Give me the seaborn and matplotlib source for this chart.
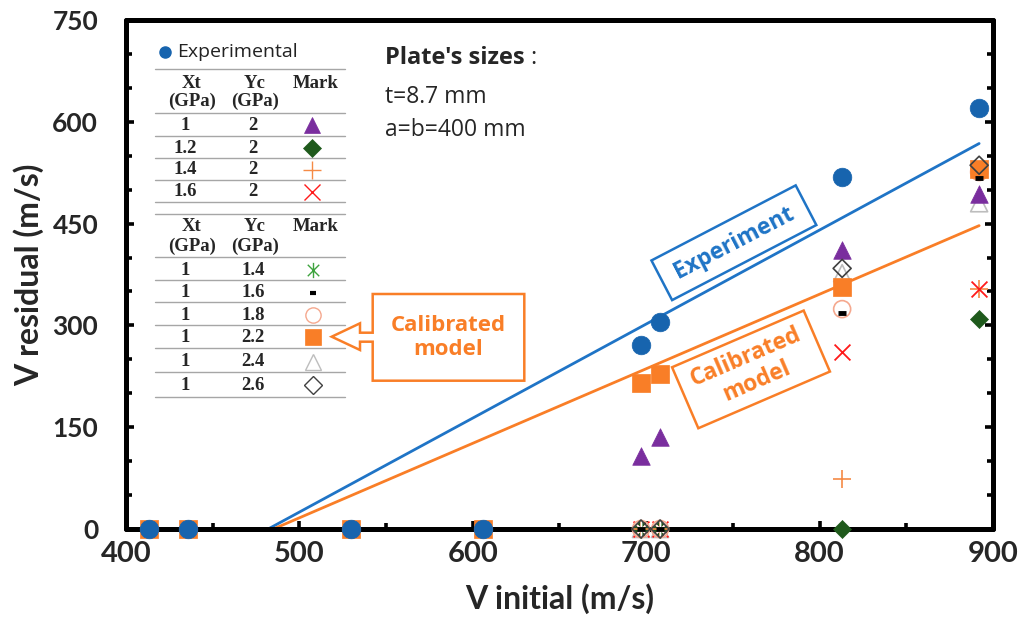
import matplotlib
matplotlib.use("Agg")
import numpy as np
import pandas as pd
import seaborn as sns
import matplotlib.pyplot as plt
from matplotlib.path import Path
from matplotlib.lines import Line2D
from matplotlib.patches import Rectangle, Polygon
from matplotlib.transforms import Affine2D

# ---------------- data ----------------
v_exp = [413, 436, 530, 606, 697, 708, 813, 892]
r_exp = [0, 0, 0, 0, 271, 305, 519, 620]
v_cal = [413, 436, 530, 606, 697, 708, 813, 892]
r_cal = [0, 0, 0, 0, 215, 228, 357, 531]          # Xt=1, Yc=2.2 (calibrated)
v_sim = [697, 708, 813, 892]
r_xt10 = [108, 136, 411, 493]   # Xt=1,   Yc=2
r_xt12 = [0, 0, 0, 310]         # Xt=1.2, Yc=2
r_xt14 = [0, 0, 73, 353]        # Xt=1.4, Yc=2
r_xt16 = [0, 0, 261, 353]       # Xt=1.6, Yc=2
r_yc14 = [0, 0, 305, 407]       # Xt=1, Yc=1.4
r_yc16 = [0, 0, 318, 517]       # Xt=1, Yc=1.6
r_yc18 = [0, 0, 324, 526]       # Xt=1, Yc=1.8
r_yc24 = [0, 0, 377, 480]       # Xt=1, Yc=2.4
r_yc26 = [0, 0, 384, 536]       # Xt=1, Yc=2.6
fit_exp_x = [482, 892]
fit_exp_y = [0, 568]
fit_cal_x = [485, 892]
fit_cal_y = [0, 447]

x_ticks = [400, 500, 600, 700, 800, 900]
y_ticks = [0, 150, 300, 450, 600, 750]

table1_xt = ["1", "1.2", "1.4", "1.6"]
table1_yc = ["2", "2", "2", "2"]
table2_xt = ["1", "1", "1", "1", "1", "1"]
table2_yc = ["1.4", "1.6", "1.8", "2.2", "2.4", "2.6"]

# ---------------- styles ----------------
BLUE = "#1764AE"
BLUE_LINE = "#1F74C6"
ORANGE = "#F97E27"
PURPLE = "#7A2E9E"
DGREEN = "#1F5A1C"
LORANGE = "#F58A45"
RED = "#FF1A1A"
GREEN = "#3EA33E"
SALMON = "#F5A88E"
LGRAY = "#BDBDBD"
DGRAY = "#404040"
SANS = ["Open Sans", "DejaVu Sans"]

asterisk = Path([(0, -1), (0, 1), (-0.75, -0.75), (0.75, 0.75), (-0.75, 0.75), (0.75, -0.75)],
                [Path.MOVETO, Path.LINETO, Path.MOVETO, Path.LINETO, Path.MOVETO, Path.LINETO])

sns.set_style("white")
plt.rcParams["font.family"] = ["Lato", "DejaVu Sans"]

W, H = 1032, 631
fig = plt.figure(figsize=(W / 100, H / 100), dpi=100)
ax = fig.add_axes([126 / W, 102 / H, 867 / W, 509 / H])

# fitted lines
sns.lineplot(x=fit_exp_x, y=fit_exp_y, color=BLUE_LINE, linewidth=2.0, ax=ax, zorder=2)
sns.lineplot(x=fit_cal_x, y=fit_cal_y, color=ORANGE, linewidth=2.0, ax=ax, zorder=2)

# simulation series: (values, marker, size, color, filled, lw)
series = [
    (r_yc24, "^", 150, LGRAY, False, 1.2),
    (r_xt10, "^", 160, PURPLE, True, 0),
    (r_xt12, "D", 84, DGREEN, True, 0),
    (r_xt14, "+", 150, LORANGE, None, 1.2),
    (r_xt16, "x", 130, RED, None, 1.3),
    (r_yc14, asterisk, 150, GREEN, None, 1.3),
    (r_yc18, "o", 150, SALMON, False, 1.2),
]
for vals, mk, s, col, filled, lw in series:
    if filled is True:
        sns.scatterplot(x=v_sim, y=vals, marker=mk, s=s, color=col, edgecolor=col,
                        linewidth=0.5, ax=ax, zorder=3, clip_on=False)
    elif filled is False:
        sns.scatterplot(x=v_sim, y=vals, marker=mk, s=s, color=col, facecolor="none",
                        edgecolor=col, linewidth=lw, ax=ax, zorder=3, clip_on=False)
    else:
        sns.scatterplot(x=v_sim, y=vals, marker=mk, s=s, color=col, linewidth=lw,
                        ax=ax, zorder=3, clip_on=False)

sns.scatterplot(x=v_cal, y=r_cal, marker="s", s=175, color=ORANGE, edgecolor=ORANGE,
                linewidth=0.5, ax=ax, zorder=4, clip_on=False)
sns.scatterplot(x=v_sim, y=r_yc16, marker="_", s=40, color="black", linewidth=3.5,
                ax=ax, zorder=5, clip_on=False)
sns.scatterplot(x=v_sim, y=r_yc26, marker="D", s=84, color=DGRAY, facecolor="none",
                edgecolor=DGRAY, linewidth=1.2, ax=ax, zorder=5, clip_on=False)
sns.scatterplot(x=v_exp, y=r_exp, marker="o", s=180, color=BLUE, edgecolor=BLUE,
                linewidth=0.5, ax=ax, zorder=6, clip_on=False)

# ---------------- axes ----------------
ax.set_xlim(400, 900)
ax.set_ylim(0, 750)
ax.set_xticks(x_ticks)
ax.set_yticks(y_ticks)
ax.set_xticks(np.arange(400, 901, 50), minor=True)
ax.set_yticks(np.arange(0, 751, 50), minor=True)
ax.tick_params(which="both", direction="in", color="black", right=True, top=False,
               bottom=True, left=True)
ax.tick_params(which="major", length=5.5, width=2.6)
ax.tick_params(which="minor", length=4, width=2.6)
ax.tick_params(axis="y", which="major", pad=20, labelsize=19)
ax.tick_params(axis="x", which="major", pad=9, labelsize=21)
for lab in ax.get_xticklabels() + ax.get_yticklabels():
    lab.set_fontweight("bold")
for sp in ax.spines.values():
    sp.set_visible(True)
    sp.set_color("black")
    sp.set_linewidth(3.6)
    sp.set_capstyle("round")
    sp.set_joinstyle("round")
ax.set_xlabel("V initial (m/s)", fontsize=23, fontweight="bold", labelpad=11)
ax.set_ylabel("V residual (m/s)", fontsize=23, fontweight="bold", labelpad=6)


def fx(x):
    return x / W


def fy(y):
    return 1 - y / H


# ---------------- text notes ----------------
fig.text(fx(385), fy(58), "Plate's sizes", fontsize=17, fontweight="bold", va="center",
         ha="left", family=SANS)
fig.text(fx(530), fy(58), ":", fontsize=17, va="center", ha="left", family=SANS)
fig.text(fx(385), fy(97), "t=8.7 mm", fontsize=16.5, va="center", ha="left", family=SANS)
fig.text(fx(385), fy(130), "a=b=400 mm", fontsize=16.5, va="center", ha="left", family=SANS)

# ---------------- manual legend table ----------------
fig.add_artist(Line2D([fx(165)], [fy(51.7)], marker="o", markersize=8, color=BLUE,
                      linestyle="none", transform=fig.transFigure))
fig.text(fx(177), fy(51.7), "Experimental", fontsize=14, va="center", ha="left",
         family=SANS, color="#222222")

rule_y = [69.3, 112.7, 136, 157.7, 180, 201.7, 214, 257.3, 280, 302.3, 325, 348.3, 371.7, 396.7]
for yy in rule_y:
    fig.add_artist(Line2D([fx(155), fx(345)], [fy(yy), fy(yy)], color="#A6A6A6",
                          linewidth=1.0, transform=fig.transFigure))

serif = ["Liberation Serif", "DejaVu Serif"]
tkw = dict(fontsize=13.5, fontweight="bold", family=serif, ha="center", va="center")
for (y1, y2) in [(83.3, 101.7), (226.7, 246.7)]:
    fig.text(fx(191.7), fy(y1), "Xt", **tkw)
    fig.text(fx(191.7), fy(y2), "(GPa)", **tkw)
    fig.text(fx(255), fy(y1), "Yc", **tkw)
    fig.text(fx(255), fy(y2), "(GPa)", **tkw)
    fig.text(fx(316), fy(y1), "Mark", **tkw)

rows1 = [125, 148.3, 170, 191.7]
marks1 = [("^", 12, PURPLE, PURPLE, 0.5), ("D", 9, DGREEN, DGREEN, 0.5),
          ("+", 13, "none", LORANGE, 1.0), ("x", 11, "none", RED, 1.0)]
for yy, xt, yc, (mk, ms, fc, ec, lw) in zip(rows1, table1_xt, table1_yc, marks1):
    fig.text(fx(185), fy(yy), xt, **tkw)
    fig.text(fx(253.3), fy(yy), yc, **tkw)
    fig.add_artist(Line2D([fx(311.7)], [fy(yy)], marker=mk, markersize=ms, markerfacecolor=fc,
                          markeredgecolor=ec, markeredgewidth=lw, linestyle="none",
                          transform=fig.transFigure))

rows2 = [270, 292.7, 315, 337.3, 361.7, 385]
marks2 = [(asterisk, 11, "none", GREEN, 1.0), ("_", 5, "none", "black", 3.0),
          ("o", 11, "none", SALMON, 1.0), ("s", 12, ORANGE, ORANGE, 0.5),
          ("^", 12, "none", LGRAY, 1.0), ("D", 9, "none", DGRAY, 1.0)]
for yy, xt, yc, (mk, ms, fc, ec, lw) in zip(rows2, table2_xt, table2_yc, marks2):
    fig.text(fx(185), fy(yy), xt, **tkw)
    fig.text(fx(253.3), fy(yy), yc, **tkw)
    fig.add_artist(Line2D([fx(313.3)], [fy(yy)], marker=mk, markersize=ms, markerfacecolor=fc,
                          markeredgecolor=ec, markeredgewidth=lw, linestyle="none",
                          transform=fig.transFigure))

# ---------------- callouts ----------------
callout_pts = [(331.7, 336.7), (360, 323.3), (360, 332.7), (372.7, 332.7), (372.7, 294),
               (524.3, 294), (524.3, 380.7), (372.7, 380.7), (372.7, 341.7), (360, 341.7),
               (360, 350)]
fig.add_artist(Polygon([(fx(a), fy(b)) for a, b in callout_pts], closed=True,
                       facecolor="white", edgecolor=ORANGE, linewidth=1.8,
                       transform=fig.transFigure, zorder=5))
fig.text(fx(448.5), fy(337.3), "Calibrated\nmodel", color=ORANGE, fontsize=16,
         fontweight="bold", ha="center", va="center", linespacing=1.2, zorder=6, family=SANS)


def rotated_box(cx, cy, w, h, ang, text, col, fs):
    tr = Affine2D().rotate_deg(ang).translate(cx, H - cy)
    fig.add_artist(Rectangle((-w / 2, -h / 2), w, h, transform=tr, facecolor="white",
                             edgecolor=col, linewidth=1.8, zorder=5))
    fig.text(fx(cx), fy(cy), text, color=col, fontsize=fs, fontweight="bold",
             rotation=ang, rotation_mode="anchor", ha="center", va="center",
             linespacing=1.15, zorder=6, family=SANS)


rotated_box(733.9, 242.75, 162.6, 44.7, 27.5, "Experiment", BLUE_LINE, 16.5)
rotated_box(751, 369.4, 143.3, 66.4, 23.3, "Calibrated\nmodel", ORANGE, 16.5)

fig.savefig("out.png", dpi=100)
